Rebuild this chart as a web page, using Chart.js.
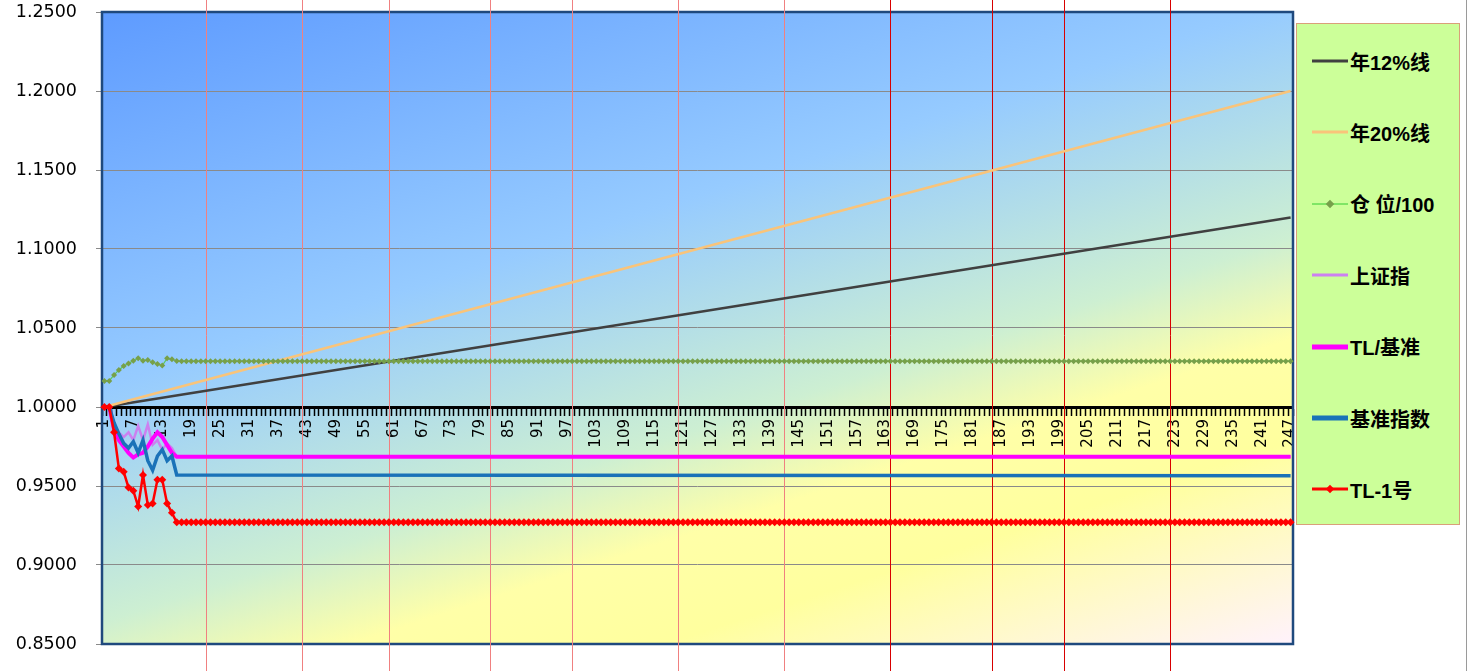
<!DOCTYPE html>
<html>
<head>
<meta charset="utf-8">
<script src="https://cdn.jsdelivr.net/npm/chart.js@4.4.1/dist/chart.umd.min.js"></script>
<style>
  html, body { margin: 0; padding: 0; background: #fff; }
  #wrap { position: relative; width: 1467px; height: 671px; overflow: hidden; }
  #legend {
    position: absolute; left: 1296px; top: 23px; width: 164px; height: 502px;
    background: #CCFF99; border: 1.5px solid #D9A07A; box-sizing: border-box;
  }
  .item {
    position: absolute; left: 15px; height: 24px; display: flex; align-items: center;
    font: bold 20px "Liberation Sans", "Noto Sans CJK SC", sans-serif; color: #000; white-space: nowrap;
  }
  .item svg { margin-right: 2px; }
  #frame { position: absolute; left: 1466px; top: 0; width: 1px; height: 671px; background: #9a9a9a; }
</style>
</head>
<body>
<div id="wrap">
  <canvas id="chart" width="1467" height="671"></canvas>
  <div id="legend"></div>
  <div id="frame"></div>
</div>
<script>
// trading days 1..247 on the category axis
const days = Array.from({length: 247}, (_, i) => String(i + 1));

// straight reference lines: value at day 1 and at day 247
const line12Ends = [1.0, 1.12];
const line20Ends = [1.0, 1.20];

// 仓位/100, one value per day
const position = [
  1.0165, 1.0165, 1.0203, 1.0234, 1.0259, 1.0276, 1.0293, 1.0308, 1.0293, 1.0297, 1.0283, 1.0272, 1.0262, 1.0308, 1.0302, 1.0291,
  1.029, 1.029, 1.029, 1.029, 1.029, 1.029, 1.029, 1.029, 1.029, 1.029, 1.029, 1.029, 1.029, 1.029, 1.029, 1.029, 1.029, 1.029, 1.029, 1.029, 1.029,
  1.029, 1.029, 1.029, 1.029, 1.029, 1.029, 1.029, 1.029, 1.029, 1.029, 1.029, 1.029, 1.029, 1.029, 1.029, 1.029, 1.029, 1.029, 1.029, 1.029, 1.029,
  1.029, 1.029, 1.029, 1.029, 1.029, 1.029, 1.029, 1.029, 1.029, 1.029, 1.029, 1.029, 1.029, 1.029, 1.029, 1.029, 1.029, 1.029, 1.029, 1.029, 1.029,
  1.029, 1.029, 1.029, 1.029, 1.029, 1.029, 1.029, 1.029, 1.029, 1.029, 1.029, 1.029, 1.029, 1.029, 1.029, 1.029, 1.029, 1.029, 1.029, 1.029, 1.029,
  1.029, 1.029, 1.029, 1.029, 1.029, 1.029, 1.029, 1.029, 1.029, 1.029, 1.029, 1.029, 1.029, 1.029, 1.029, 1.029, 1.029, 1.029, 1.029, 1.029, 1.029,
  1.029, 1.029, 1.029, 1.029, 1.029, 1.029, 1.029, 1.029, 1.029, 1.029, 1.029, 1.029, 1.029, 1.029, 1.029, 1.029, 1.029, 1.029, 1.029, 1.029, 1.029,
  1.029, 1.029, 1.029, 1.029, 1.029, 1.029, 1.029, 1.029, 1.029, 1.029, 1.029, 1.029, 1.029, 1.029, 1.029, 1.029, 1.029, 1.029, 1.029, 1.029, 1.029,
  1.029, 1.029, 1.029, 1.029, 1.029, 1.029, 1.029, 1.029, 1.029, 1.029, 1.029, 1.029, 1.029, 1.029, 1.029, 1.029, 1.029, 1.029, 1.029, 1.029, 1.029,
  1.029, 1.029, 1.029, 1.029, 1.029, 1.029, 1.029, 1.029, 1.029, 1.029, 1.029, 1.029, 1.029, 1.029, 1.029, 1.029, 1.029, 1.029, 1.029, 1.029, 1.029,
  1.029, 1.029, 1.029, 1.029, 1.029, 1.029, 1.029, 1.029, 1.029, 1.029, 1.029, 1.029, 1.029, 1.029, 1.029, 1.029, 1.029, 1.029, 1.029, 1.029, 1.029,
  1.029, 1.029, 1.029, 1.029, 1.029, 1.029, 1.029, 1.029, 1.029, 1.029, 1.029, 1.029, 1.029, 1.029, 1.029, 1.029, 1.029, 1.029, 1.029, 1.029, 1.029
];

// TL-1号, one value per day
const tl1 = [
  1.000, 1.000, 0.984, 0.961, 0.959, 0.949, 0.947, 0.937, 0.957, 0.938, 0.939, 0.954, 0.954, 0.939, 0.933, 0.927,
  0.927, 0.927, 0.927, 0.927, 0.927, 0.927, 0.927, 0.927, 0.927, 0.927, 0.927, 0.927, 0.927, 0.927, 0.927, 0.927, 0.927, 0.927, 0.927, 0.927, 0.927,
  0.927, 0.927, 0.927, 0.927, 0.927, 0.927, 0.927, 0.927, 0.927, 0.927, 0.927, 0.927, 0.927, 0.927, 0.927, 0.927, 0.927, 0.927, 0.927, 0.927, 0.927,
  0.927, 0.927, 0.927, 0.927, 0.927, 0.927, 0.927, 0.927, 0.927, 0.927, 0.927, 0.927, 0.927, 0.927, 0.927, 0.927, 0.927, 0.927, 0.927, 0.927, 0.927,
  0.927, 0.927, 0.927, 0.927, 0.927, 0.927, 0.927, 0.927, 0.927, 0.927, 0.927, 0.927, 0.927, 0.927, 0.927, 0.927, 0.927, 0.927, 0.927, 0.927, 0.927,
  0.927, 0.927, 0.927, 0.927, 0.927, 0.927, 0.927, 0.927, 0.927, 0.927, 0.927, 0.927, 0.927, 0.927, 0.927, 0.927, 0.927, 0.927, 0.927, 0.927, 0.927,
  0.927, 0.927, 0.927, 0.927, 0.927, 0.927, 0.927, 0.927, 0.927, 0.927, 0.927, 0.927, 0.927, 0.927, 0.927, 0.927, 0.927, 0.927, 0.927, 0.927, 0.927,
  0.927, 0.927, 0.927, 0.927, 0.927, 0.927, 0.927, 0.927, 0.927, 0.927, 0.927, 0.927, 0.927, 0.927, 0.927, 0.927, 0.927, 0.927, 0.927, 0.927, 0.927,
  0.927, 0.927, 0.927, 0.927, 0.927, 0.927, 0.927, 0.927, 0.927, 0.927, 0.927, 0.927, 0.927, 0.927, 0.927, 0.927, 0.927, 0.927, 0.927, 0.927, 0.927,
  0.927, 0.927, 0.927, 0.927, 0.927, 0.927, 0.927, 0.927, 0.927, 0.927, 0.927, 0.927, 0.927, 0.927, 0.927, 0.927, 0.927, 0.927, 0.927, 0.927, 0.927,
  0.927, 0.927, 0.927, 0.927, 0.927, 0.927, 0.927, 0.927, 0.927, 0.927, 0.927, 0.927, 0.927, 0.927, 0.927, 0.927, 0.927, 0.927, 0.927, 0.927, 0.927,
  0.927, 0.927, 0.927, 0.927, 0.927, 0.927, 0.927, 0.927, 0.927, 0.927, 0.927, 0.927, 0.927, 0.927, 0.927, 0.927, 0.927, 0.927, 0.927, 0.927, 0.927
];

// series that only move in the first days and then hold a level until day 247
const shIndexStart = [1.000, 1.000, 0.988, 0.984, 0.981, 0.984, 0.979, 0.988, 0.979, 0.989, 0.976, 0.979, 0.973, 0.977, 0.974, 0.9685];
const shIndexLast = 0.9685;
const tlRatioStart = [1.000, 1.000, 0.986, 0.979, 0.975, 0.971, 0.968, 0.970, 0.971, 0.975, 0.980, 0.984, 0.981, 0.976, 0.971, 0.9685];
const tlRatioLast = 0.9685;
const benchStart = [1.000, 1.000, 0.990, 0.983, 0.977, 0.974, 0.978, 0.971, 0.979, 0.966, 0.960, 0.969, 0.973, 0.966, 0.969, 0.957];
const benchLast = 0.9565;

// red vertical marker days
const markDays = [22, 42, 60, 81, 98, 120, 142, 164, 185, 200, 222];

const yMin = 0.85, yMax = 1.25, yStep = 0.05;

function ends(vals) {
  return [{x: days[0], y: vals[0]}, {x: days[days.length - 1], y: vals[1]}];
}
function startThenHold(start, last) {
  const pts = start.map((v, i) => ({x: days[i], y: v}));
  pts.push({x: days[days.length - 1], y: last});
  return pts;
}

const plotBackground = {
  id: 'plotBackground',
  beforeDraw(chart) {
    const {ctx, chartArea: a} = chart;
    const w = a.right - a.left, h = a.bottom - a.top;
    // gradient running mostly downwards, slightly to the right
    const ux = 0.61 / (1.61 * w), uy = 1 / (1.61 * h);
    const n = ux * ux + uy * uy;
    const g = ctx.createLinearGradient(a.left, a.top, a.left + ux / n, a.top + uy / n);
    g.addColorStop(0, '#5E9BFF');
    g.addColorStop(0.37, '#96CBFF');
    g.addColorStop(0.6, '#CDEFD2');
    g.addColorStop(0.7, '#FFFFA8');
    g.addColorStop(0.8, '#FFFF9E');
    g.addColorStop(1, '#FFF2FC');
    ctx.save();
    ctx.fillStyle = g;
    ctx.fillRect(a.left, a.top, w, h);
    ctx.restore();
  },
  beforeDatasetsDraw(chart) {
    const {ctx, chartArea: a, scales} = chart;
    ctx.save();
    ctx.strokeStyle = '#1F497D';
    ctx.lineWidth = 2.5;
    ctx.strokeRect(a.left, a.top, a.right - a.left, a.bottom - a.top);
    markDays.forEach((d, i) => {
      const x = Math.round(scales.x.getPixelForValue(days.indexOf(String(d)))) + 0.5;
      ctx.strokeStyle = i < 7 ? '#F08080' : '#D80000';
      ctx.lineWidth = 1;
      ctx.beginPath();
      ctx.moveTo(x, 0);
      ctx.lineTo(x, chart.height);
      ctx.stroke();
    });
    ctx.restore();
  }
};

const chart = new Chart(document.getElementById('chart'), {
  type: 'line',
  data: {
    labels: days,
    datasets: [
      { label: '年12%线', data: ends(line12Ends), borderColor: '#404040', borderWidth: 2.5, pointRadius: 0, order: 6, legendWidth: 3 },
      { label: '年20%线', data: ends(line20Ends), borderColor: '#F9C47A', borderWidth: 2.5, pointRadius: 0, order: 5, legendWidth: 3 },
      { label: '仓 位/100', data: position, borderColor: '#5CC85C', borderWidth: 1.2, pointStyle: 'rectRot', pointRadius: 3,
        pointBackgroundColor: '#77A04A', pointBorderColor: '#77A04A', pointBorderWidth: 0, order: 4, legendWidth: 1 },
      { label: '上证指', data: startThenHold(shIndexStart, shIndexLast), borderColor: '#CC80F0', borderWidth: 2.5, pointRadius: 0, order: 3, legendWidth: 3 },
      { label: 'TL/基准', data: startThenHold(tlRatioStart, tlRatioLast), borderColor: '#FF00FF', borderWidth: 4, pointRadius: 0, order: 2, legendWidth: 5 },
      { label: '基准指数', data: startThenHold(benchStart, benchLast), borderColor: '#1A72B8', borderWidth: 3.5, pointRadius: 0, order: 1, legendWidth: 5 },
      { label: 'TL-1号', data: tl1, borderColor: '#FF0000', borderWidth: 2.5, pointStyle: 'rectRot', pointRadius: 4,
        pointBackgroundColor: '#FF0000', pointBorderColor: '#FF0000', pointBorderWidth: 0, order: 0, legendWidth: 3 }
    ]
  },
  options: {
    responsive: false,
    devicePixelRatio: 1,
    animation: false,
    events: [],
    layout: { padding: { left: 16, right: 174, top: 12, bottom: 27 } },
    plugins: { legend: { display: false }, tooltip: { enabled: false } },
    elements: { line: { tension: 0 } },
    scales: {
      x: {
        type: 'category',
        position: { y: 1.0 },
        offset: true,
        afterFit(s) { s.paddingLeft = 0; s.paddingRight = 0; s.paddingTop = 0; s.paddingBottom = 0; },
        grid: { offset: true, drawOnChartArea: false, drawTicks: true, tickLength: 7, tickColor: '#000', tickWidth: 1.5 },
        border: { color: '#000', width: 3 },
        ticks: {
          autoSkip: false, minRotation: 90, maxRotation: 90, padding: 5, color: '#000',
          font: { family: 'DejaVu Sans', size: 15 },
          callback(v, i) { return i % 6 === 0 ? this.getLabelForValue(v) : ''; }
        }
      },
      y: {
        min: yMin, max: yMax,
        afterFit(s) { s.width = 86; s.paddingTop = 0; s.paddingBottom = 0; },
        grid: { color: '#8A8A8A', lineWidth: 1, drawTicks: true, tickLength: 6, tickColor: '#8A8A8A' },
        border: { display: false },
        ticks: {
          stepSize: yStep, padding: 19, color: '#000',
          font: { family: 'DejaVu Sans', size: 17.5 },
          callback: v => Number(v).toFixed(4)
        }
      }
    }
  },
  plugins: [plotBackground]
});

// legend box on the right, built from the datasets
const legendEl = document.getElementById('legend');
chart.data.datasets.forEach((ds, i) => {
  const item = document.createElement('div');
  item.className = 'item';
  item.style.top = (25 + i * 71.4) + 'px';
  let marker = '';
  if (ds.pointRadius > 0) {
    marker = `<rect x="15" y="4" width="6" height="6" transform="rotate(45 18 7)" fill="${ds.pointBackgroundColor}"/>`;
  }
  const stroke = ds.label === '仓 位/100' ? '#33CC33' : ds.borderColor;
  item.innerHTML = `<svg width="36" height="14"><line x1="0" y1="7" x2="36" y2="7" stroke="${stroke}" stroke-width="${ds.legendWidth}"/>${marker}</svg><span>${ds.label}</span>`;
  legendEl.appendChild(item);
});
</script>
</body>
</html>
